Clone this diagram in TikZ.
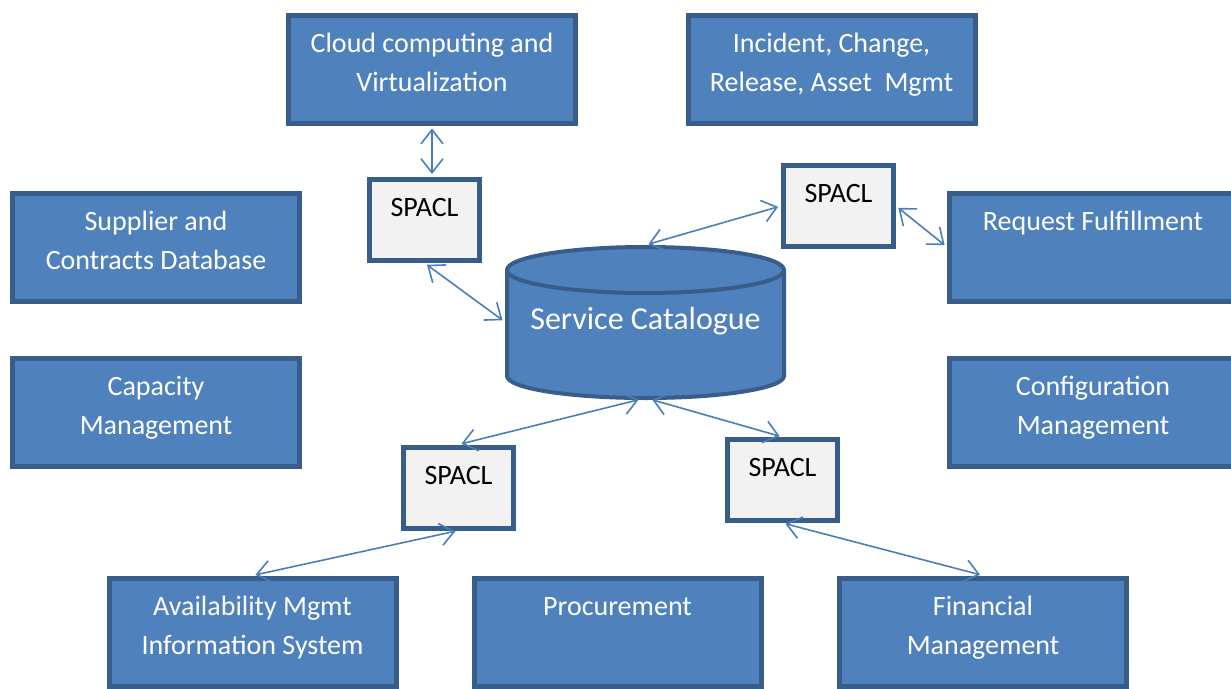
\documentclass[tikz,border=0pt]{standalone}
\usepackage{fontspec}
\setmainfont{Carlito}
\usetikzlibrary{positioning,arrows.meta}
\definecolor{boxblue}{RGB}{79,129,189}
\definecolor{edgeblue}{RGB}{56,93,138}
\definecolor{arrowblue}{RGB}{74,126,187}
\definecolor{spaclgray}{RGB}{242,242,242}

\begin{document}
\begin{tikzpicture}[x=1pt,y=-1pt,
    bluebox/.style={draw=edgeblue, fill=boxblue, line width=5pt, minimum width=287pt, minimum height=108pt},
    spaclbox/.style={draw=edgeblue, fill=spaclgray, line width=5pt, minimum width=110pt, minimum height=81pt},
    boxtext/.style={text=white, font=\fontsize{28}{39}\selectfont, align=center, inner sep=0pt},
    spacltext/.style={boxtext, text=black},
    link/.style={draw=arrowblue, line width=1.6pt, <->, shorten <=3pt, shorten >=3pt},
    >={Straight Barb[length=14pt,width=22pt]}]
    \useasboundingbox (0,0) rectangle (1231,688);
    \clip (0,0) rectangle (1231,688);

    % outer boxes
    \node[bluebox] (cloud)    at (432,69)    {};
    \node[bluebox] (incident) at (831.5,69.5) {};
    \node[bluebox] (supplier) at (156,247.5) {};
    \node[bluebox] (request)  at (1093,247)  {};
    \node[bluebox] (capacity) at (156,412.5) {};
    \node[bluebox] (config)   at (1093,412.5) {};
    \node[bluebox] (avail)    at (252.5,632) {};
    \node[bluebox] (procure)  at (617.5,632) {};
    \node[bluebox] (finance)  at (983,632)   {};

    \node[boxtext, below=12pt of cloud.north]    (cloudtext)    {\strut Cloud computing and\\Virtualization};
    \node[boxtext, below=12pt of incident.north] (incidenttext) {\strut Incident, Change,\\Release, Asset\ \ Mgmt};
    \node[boxtext, below=12pt of supplier.north] (suppliertext) {\strut Supplier and\\Contracts Database};
    \node[boxtext, below=12pt of request.north]  (requesttext)  {\strut Request Fulfillment};
    \node[boxtext, below=12pt of capacity.north] (capacitytext) {\strut Capacity\\Management};
    \node[boxtext, below=12pt of config.north]   (configtext)   {\strut Configuration\\Management};
    \node[boxtext, below=12pt of avail.north]    (availtext)    {\strut Availability Mgmt\\Information System};
    \node[boxtext, below=12pt of procure.north]  (procuretext)  {\strut Procurement};
    \node[boxtext, below=12pt of finance.north]  (financetext)  {\strut Financial\\Management};

    % the catalogue drum
    \filldraw[draw=edgeblue, fill=boxblue, line width=4pt]
      (507,270) -- (507,376) arc[start angle=180, end angle=360, x radius=138.5pt, y radius=22pt]
      -- (784,270) arc[start angle=0, end angle=180, x radius=138.5pt, y radius=23pt] -- cycle;
    \draw[edgeblue, line width=4pt] (507,270) arc[start angle=180, end angle=360, x radius=138.5pt, y radius=23pt];
    \node[minimum width=281pt, minimum height=154pt, inner sep=0pt, outer sep=0pt] (catalogue) at (645.5,322) {};
    \node[text=white, font=\fontsize{32}{38}\selectfont, inner sep=0pt, anchor=base] (catalogtext) at (645.5,329) {Service Catalogue};

    % SPACL boxes
    \node[spaclbox] (spacl1) at (424.5,220) {};
    \node[spaclbox] (spacl2) at (838.5,206) {};
    \node[spaclbox] (spacl3) at (458.5,487.5) {};
    \node[spaclbox] (spacl4) at (782.5,480) {};
    \node[spacltext, below=12pt of spacl1.north] (spacl1text) {\strut SPACL};
    \node[spacltext, below=12pt of spacl2.north] (spacl2text) {\strut SPACL};
    \node[spacltext, below=12pt of spacl3.north] (spacl3text) {\strut SPACL};
    \node[spacltext, below=12pt of spacl4.north] (spacl4text) {\strut SPACL};

    % links
    \draw[link] (cloud.south) -- (cloud.south |- spacl1.north);
    \draw[link] (spacl1.south) -- (catalogue.west);
    \draw[link] (catalogue.north) -- (spacl2.west);
    \draw[link] (spacl2.east) -- (request.west);
    \draw[link] ([xshift=-4pt]catalogue.south) -- (spacl3.north);
    \draw[link] ([xshift=4pt]catalogue.south) -- (spacl4.north);
    \draw[link] (spacl3.south) -- (avail.north);
    \draw[link] (spacl4.south) -- (finance.north);
\end{tikzpicture}
\end{document}
